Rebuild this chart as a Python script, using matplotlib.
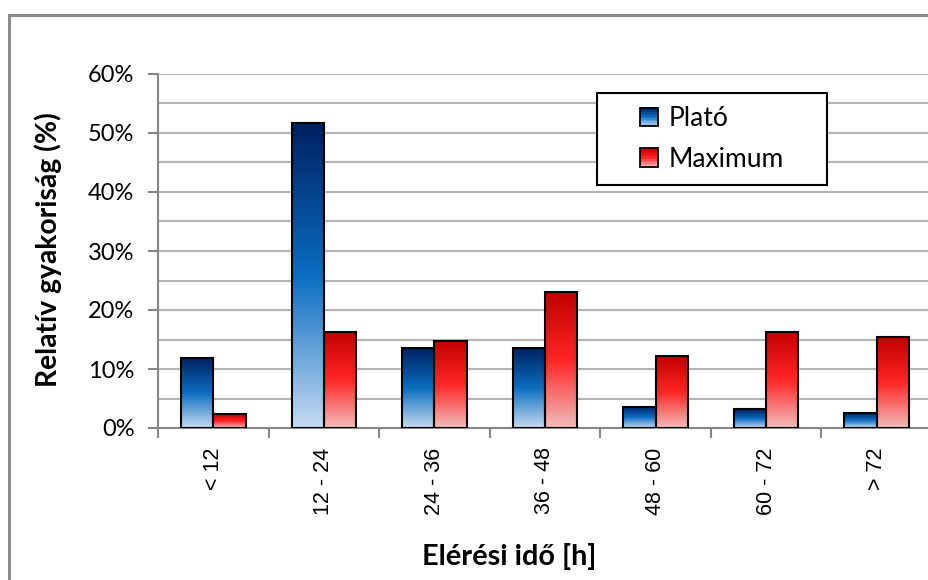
import matplotlib
matplotlib.use('Agg')
import matplotlib.pyplot as plt
import numpy as np
from matplotlib.colors import LinearSegmentedColormap
from matplotlib.patches import Rectangle
from matplotlib.legend_handler import HandlerBase

# Data
categories = ['< 12', '12 - 24', '24 - 36', '36 - 48', '48 - 60', '60 - 72', '> 72']
plato = [11.9, 51.7, 13.6, 13.6, 3.6, 3.2, 2.6]
maximum = [2.3, 16.3, 14.8, 23.0, 12.2, 16.3, 15.4]
series_names = ['Plató', 'Maximum']

blue_cm = LinearSegmentedColormap.from_list('blue', [(0, '#C6DBF2'), (0.5, '#0A6CC0'), (1, '#00205F')])
red_cm = LinearSegmentedColormap.from_list('red', [(0, '#F2BCBC'), (0.5, '#FF2525'), (1, '#C00000')])

label_font = ['Lato', 'DejaVu Sans']
tick_font = ['Liberation Sans', 'DejaVu Sans']

fig = plt.figure(figsize=(9.29, 5.80), dpi=100)
ax = fig.add_axes([158 / 929, 152 / 580, 774 / 929, 354 / 580])

# outer chart frame
fig.patches.append(Rectangle((9 / 929, -0.1), 1.2, 1 - 15 / 580 + 0.1, transform=fig.transFigure,
                             fill=False, edgecolor='#8C8C8C', lw=2.2, clip_on=False))

x = np.arange(len(categories))
w = 0.292
grad = np.linspace(0, 1, 256).reshape(-1, 1)


def gradient_bars(xs, vals, cmap):
    for xi, v in zip(xs, vals):
        ax.imshow(grad, extent=[xi - w / 2, xi + w / 2, 0, v], origin='lower', aspect='auto',
                  cmap=cmap, zorder=2, interpolation='bilinear')
    ax.bar(xs, vals, width=w, facecolor='none', edgecolor='black', linewidth=1.5, zorder=3)


gradient_bars(x - w / 2, plato, blue_cm)
gradient_bars(x + w / 2, maximum, red_cm)

ax.set_xlim(-0.5, len(categories) - 0.5)
ax.set_ylim(0, 60)

# grid
ax.set_yticks(np.arange(0, 61, 10))
ax.set_yticks(np.arange(5, 60, 10), minor=True)
ax.set_yticklabels([f'{int(v)}%' for v in np.arange(0, 61, 10)], fontsize=17, family=label_font)
ax.yaxis.grid(True, which='both', color='#B4B4B4', lw=1.5, zorder=0)
ax.set_axisbelow(True)
ax.tick_params(axis='y', which='major', length=7, width=1.5, color='#868686', pad=10)
ax.tick_params(axis='y', which='minor', length=0)

ax.set_xticks(x)
ax.set_xticklabels(categories, rotation=90, fontsize=15.5, family=tick_font)
ax.set_xticks(np.arange(-0.5, len(categories), 1), minor=True)
ax.tick_params(axis='x', which='major', length=0, pad=14)
ax.tick_params(axis='x', which='minor', length=7, width=1.5, color='#868686')

for s in ['top', 'right']:
    ax.spines[s].set_visible(False)
for s in ['left', 'bottom']:
    ax.spines[s].set_color('#868686')
    ax.spines[s].set_linewidth(1.5)

fig.text(48 / 929, 1 - 250 / 580, 'Relatív gyakoriság (%)', rotation=90, ha='center', va='center',
         fontsize=20.3, fontweight='bold', family=label_font)
fig.text(509 / 929, 1 - 557 / 580, 'Elérési idő [h]', ha='center', va='center',
         fontsize=20.8, fontweight='bold', family=label_font)


class GradHandler(HandlerBase):
    def __init__(self, cmap):
        super().__init__()
        self.cmap = cmap

    def create_artists(self, legend, orig_handle, xdescent, ydescent, width, height, fontsize, trans):
        s = height
        x0 = -xdescent + (width - s) / 2
        y0 = -ydescent
        arts = []
        n = 12
        for i in range(n):
            arts.append(Rectangle((x0, y0 + s * i / n), s, s / n + 0.3, facecolor=self.cmap((i + 0.5) / n),
                                  edgecolor='none', transform=trans))
        arts.append(Rectangle((x0, y0), s, s, facecolor='none', edgecolor='black', lw=1.3, transform=trans))
        return arts


# legend frame
ax.add_patch(Rectangle(((597 - 158) / 774, (428 - 185) / 354), 230 / 774, 92 / 354, transform=ax.transAxes,
                       facecolor='white', edgecolor='black', lw=1.5, zorder=5))
h1 = Rectangle((0, 0), 1, 1)
h2 = Rectangle((0, 0), 1, 1)
leg = ax.legend([h1, h2], series_names, handler_map={h1: GradHandler(blue_cm), h2: GradHandler(red_cm)},
                loc='center', bbox_to_anchor=((712 - 158) / 774, (428 - 139) / 354), frameon=False,
                prop={'family': label_font, 'size': 19}, handlelength=0.7, handleheight=0.7,
                handletextpad=0.4, labelspacing=0.6)
leg.set_zorder(6)

fig.savefig('out.png', dpi=100)
